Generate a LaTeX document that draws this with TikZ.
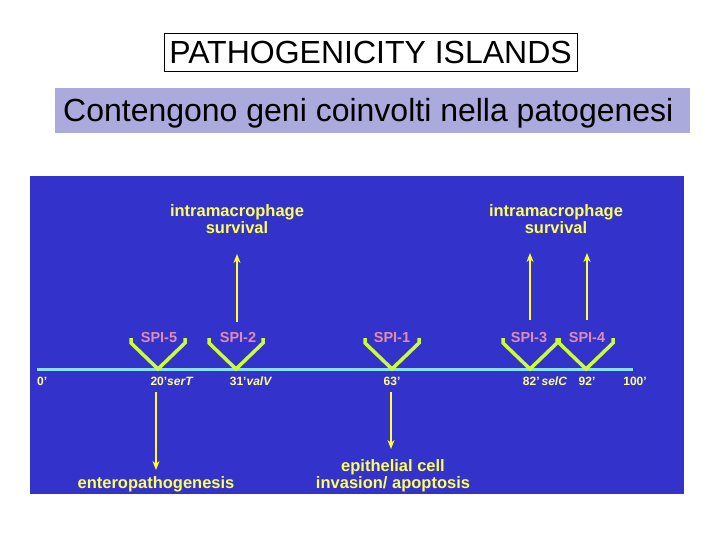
\documentclass[tikz,border=0pt]{standalone}
\usepackage{fontspec}
\setmainfont{Liberation Sans}
\usetikzlibrary{arrows.meta}
\definecolor{bgblue}{RGB}{51,51,204}
\definecolor{lav}{RGB}{170,170,221}
\definecolor{axiscol}{RGB}{140,225,240}
\definecolor{vcol}{RGB}{204,255,51}
\definecolor{arrcol}{RGB}{255,255,51}
\definecolor{txtyel}{RGB}{255,255,90}
\definecolor{poscol}{RGB}{255,255,150}
\definecolor{spicol}{RGB}{225,140,175}
\tikzset{
  vshape/.style={draw=vcol, line width=3.5pt, line join=miter},
  arr/.style={draw=arrcol, line width=2.2pt, -{Stealth[length=9pt,width=7pt]}},
  spilab/.style={text=spicol, font=\fontsize{14.5}{15}\selectfont\bfseries, inner sep=0pt},
  effect/.style={text=txtyel, font=\fontsize{16.5}{17}\selectfont\bfseries, align=center, inner sep=0pt},
  poslab/.style={text=poscol, font=\fontsize{12}{13}\selectfont\bfseries, inner sep=0pt},
}
\newcommand{\vmark}[2]{%
  \coordinate (#1) at (#2,370);
  \draw[vshape] (#2-27,338) -- (#2-27,343) -- (#2,369) -- (#2+27,343) -- (#2+27,338);
}
\begin{document}
\begin{tikzpicture}[x=1pt,y=-1pt]
\useasboundingbox (0,0) rectangle (720,540);
\fill[white] (0,0) rectangle (720,540);
% title
\node[draw=black, line width=0.8pt, minimum width=413pt, minimum height=38pt, inner sep=0pt,
  font=\fontsize{32}{34}\selectfont] (title) at (370.5,52) {PATHOGENICITY ISLANDS};
% subtitle band
\fill[lav] (55,88) rectangle (690,133);
\node[font=\fontsize{32}{34}\selectfont, anchor=base west, inner sep=0pt] (sub) at (63,122) {Contengono geni coinvolti nella patogenesi};
% blue panel
\fill[bgblue] (30,176) rectangle (684,494);
% axis
\draw[axiscol, line width=3pt] (37,369) coordinate (a0) -- (633,369) coordinate (a1);
% V markers
\vmark{v5}{158}
\vmark{v2}{236}
\vmark{v1}{392}
\vmark{v3}{530}
\vmark{v4}{586}
% SPI labels
\node[spilab] (s5) at (159,338) {SPI-5};
\node[spilab] (s2) at (238,338) {SPI-2};
\node[spilab] (s1) at (392,338) {SPI-1};
\node[spilab] (s3) at (529,338) {SPI-3};
\node[spilab] (s4) at (587,338) {SPI-4};
% position labels
\node[poslab, anchor=west] (p0) at (37,381) {0'};
\node[poslab] (p20) at (172,381) {20'\textit{serT}};
\node[poslab] (p31) at (251,381) {31'\textit{valV}};
\node[poslab] (p63) at (392,381) {63'};
\node[poslab] (p82) at (545,381) {82'\,\textit{selC}};
\node[poslab] (p92) at (587,381) {92'};
\node[poslab] (p100) at (635,381) {100'};
% effect labels
\node[effect] (e1) at (237,219) {intramacrophage\\survival};
\node[effect] (e2) at (556,219) {intramacrophage\\survival};
\node[effect] (e3) at (156,484) {enteropathogenesis};
\node[effect] (e4) at (393,476) {epithelial cell\\invasion/ apoptosis};
% arrows
\coordinate (u2s) at (237,322); \coordinate (u2e) at (237,254);
\coordinate (u3s) at (530,320); \coordinate (u3e) at (530,253);
\coordinate (u4s) at (587,320); \coordinate (u4e) at (587,253);
\coordinate (d5s) at (156,392); \coordinate (d5e) at (156,470);
\coordinate (d1s) at (391,392); \coordinate (d1e) at (391,449);
\draw[arr] (u2s) -- (u2e);
\draw[arr] (u3s) -- (u3e);
\draw[arr] (u4s) -- (u4e);
\draw[arr] (d5s) -- (d5e);
\draw[arr] (d1s) -- (d1e);
\end{tikzpicture}
\end{document}
